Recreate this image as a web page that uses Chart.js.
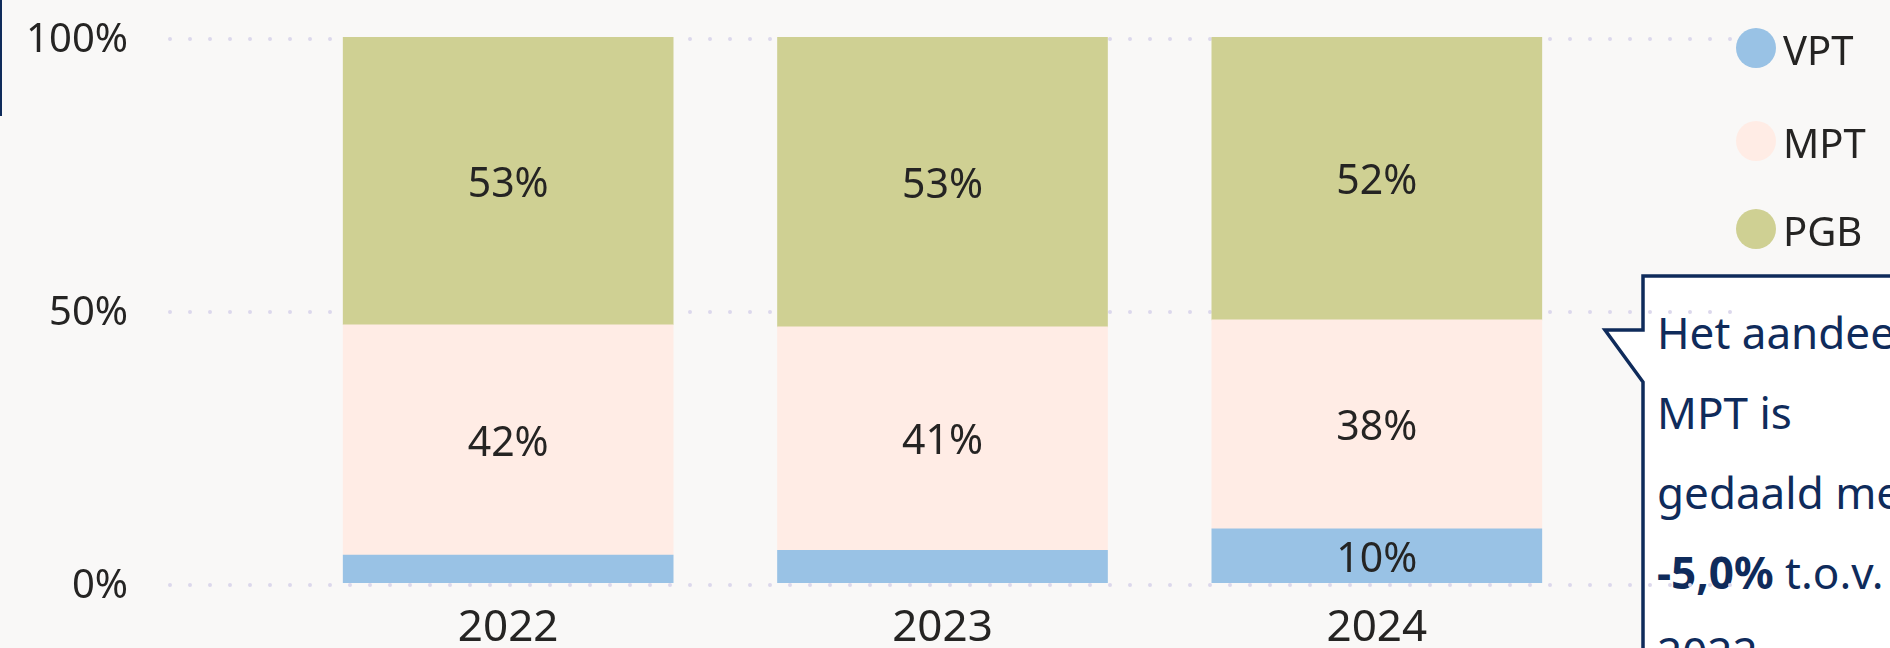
<!DOCTYPE html>
<html>
<head>
<meta charset="utf-8">
<script src="https://cdn.jsdelivr.net/npm/chart.js@4.4.1/dist/chart.umd.min.js"></script>
<style>
    html, body { margin: 0; padding: 0; }
    body {
        width: 1890px;
        height: 648px;
        overflow: hidden;
        position: relative;
        background: #f9f8f7;
        font-family: "Noto Sans", "Open Sans", sans-serif;
    }
    #edge { position: absolute; left: 0; top: 0; width: 2px; height: 116px; background: #0f2b5b; }
    #callout { position: absolute; left: 0; top: 0; }
    #calloutText {
        position: absolute;
        left: 1657px;
        top: 292px;
        font-size: 44px;
        line-height: 80px;
        color: #0f2b5b;
        white-space: nowrap;
    }
    #chart { position: absolute; left: 0; top: 0; }
    .dot { position: absolute; width: 40px; height: 40px; border-radius: 50%; }
    .name { position: absolute; font-size: 40px; line-height: 40px; color: #252423; white-space: nowrap; }
</style>
</head>
<body>
<div id="edge"></div>
<svg id="callout" width="1890" height="648">
    <path d="M1643 276 L1900 276 L1900 700 L1643 700 L1643 382 L1605 330 L1643 330 Z"
          fill="#ffffff" stroke="#0f2b5b" stroke-width="3.5" stroke-linejoin="miter" />
</svg>
<div id="calloutText">Het aandeel<br>MPT is<br>gedaald met<br><b>-5,0%</b> t.o.v.<br>2022</div>
<canvas id="chart" width="1890" height="648"></canvas>
<div id="legend"></div>
<script>
const years = ["2022", "2023", "2024"]
const vpt = [5.1, 6.0, 9.9]
const mpt = [42.2, 40.9, 38.3]
const pgb = [52.7, 53.1, 51.8]
const yTicks = [0, 50, 100]

const colors = { VPT: "#99c2e5", MPT: "#ffece5", PGB: "#cfd093" }
const textColor = "#252423"
const font = '"Noto Sans", "Open Sans", sans-serif'

// dotted horizontal gridlines, wider than the plot area (like the report)
const dotGrid = {
    id: "dotGrid",
    beforeDatasetsDraw(chart) {
        const { ctx } = chart
        const y = chart.scales.y
        ctx.save()
        ctx.strokeStyle = "#dcd8ec"
        ctx.lineWidth = 4
        ctx.lineCap = "round"
        ctx.setLineDash([0, 20])
        y.ticks.forEach((t) => {
            const py = Math.round(y.getPixelForValue(t.value)) + 2
            ctx.beginPath()
            ctx.moveTo(170, py)
            ctx.lineTo(1731, py)
            ctx.stroke()
        })
        ctx.restore()
    },
}

// value labels in the middle of each segment, small ones are skipped
const segmentLabels = {
    id: "segmentLabels",
    afterDatasetsDraw(chart) {
        const { ctx } = chart
        ctx.save()
        ctx.font = "41px " + font
        ctx.fillStyle = textColor
        ctx.textAlign = "center"
        ctx.textBaseline = "middle"
        chart.data.datasets.forEach((ds, i) => {
            chart.getDatasetMeta(i).data.forEach((bar, j) => {
                const v = ds.data[j]
                if (v < 8) return
                ctx.fillText(Math.round(v) + "%", bar.x, (bar.y + bar.base) / 2 + 4)
            })
        })
        ctx.restore()
    },
}

const chart = new Chart(document.getElementById("chart"), {
    type: "bar",
    data: {
        labels: years,
        datasets: [
            { label: "VPT", data: vpt, backgroundColor: colors.VPT },
            { label: "MPT", data: mpt, backgroundColor: colors.MPT },
            { label: "PGB", data: pgb, backgroundColor: colors.PGB },
        ],
    },
    plugins: [dotGrid, segmentLabels],
    options: {
        responsive: false,
        animation: false,
        layout: { padding: { top: 37, right: 296, bottom: 0, left: 0 } },
        datasets: { bar: { barThickness: 330, borderWidth: 0 } },
        plugins: { legend: { display: false }, tooltip: { enabled: false } },
        scales: {
            x: {
                stacked: true,
                grid: { display: false, drawTicks: false },
                border: { display: false },
                ticks: { color: textColor, font: { family: font, size: 44 }, padding: 19 },
                afterFit: (scale) => { scale.height = 65 },
            },
            y: {
                stacked: true,
                min: 0,
                max: 100,
                afterBuildTicks: (scale) => { scale.ticks = yTicks.map((v) => ({ value: v })) },
                grid: { display: false, drawTicks: false },
                border: { display: false },
                ticks: {
                    color: textColor,
                    font: { family: font, size: 40 },
                    padding: 163,
                    labelOffset: 4,
                    callback: (v) => v + "%",
                },
                afterFit: (scale) => {
                    scale.width = 291
                    scale.paddingTop = 0
                    scale.paddingBottom = 0
                },
            },
        },
    },
})

// html legend from the datasets
const legendRows = [48, 141, 229]
const legend = document.getElementById("legend")
chart.data.datasets.forEach((ds, i) => {
    const cy = legendRows[i]
    const dot = document.createElement("div")
    dot.className = "dot"
    dot.style.left = "1736px"
    dot.style.top = cy - 20 + "px"
    dot.style.background = ds.backgroundColor
    const name = document.createElement("div")
    name.className = "name"
    name.style.left = "1783px"
    name.style.top = cy - 18 + "px"
    name.textContent = ds.label
    legend.appendChild(dot)
    legend.appendChild(name)
})
</script>
</body>
</html>
